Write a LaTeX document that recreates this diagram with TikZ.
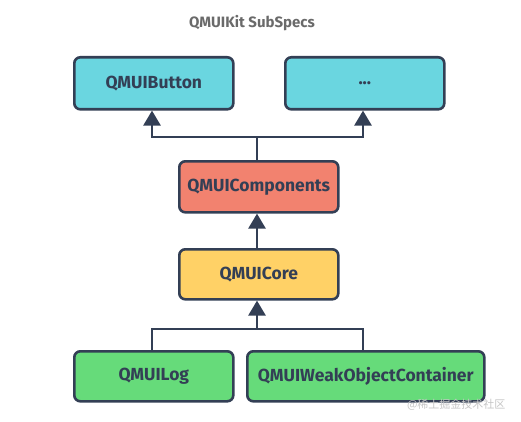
\documentclass[tikz,border=0pt]{standalone}
\usepackage{fontspec}
\setmainfont{Fira Sans}
\newfontfamily\cjkfont{Noto Sans CJK SC}
\usetikzlibrary{arrows.meta}
\definecolor{navy}{HTML}{333F55}
\definecolor{cyanbox}{HTML}{6AD6E0}
\definecolor{redbox}{HTML}{F2826F}
\definecolor{yellowbox}{HTML}{FFD166}
\definecolor{greenbox}{HTML}{66DB7A}
\definecolor{titlegray}{HTML}{6A6A6A}
\tikzset{
  box/.style={draw=navy, line width=2.6pt, rounded corners=6pt, anchor=north west, inner sep=0pt,
    font=\fontsize{17.5}{20}\selectfont\bfseries, text=navy},
  conn/.style={draw=navy, line width=2.6pt},
  arr/.style={conn, -{Triangle[length=15pt,width=17pt]}},
}
\begin{document}
\begin{tikzpicture}[x=1pt,y=-1pt]
\useasboundingbox (0,0) rectangle (521,422);
\fill[white] (0,0) rectangle (521,422);
\node[font=\fontsize{15}{17}\selectfont\bfseries, text=titlegray] (title) at (252,23) {QMUIKit SubSpecs};
\node[box, fill=cyanbox, minimum width=159pt, minimum height=52pt] (btn) at (73,56) {QMUIButton};
\node[box, fill=cyanbox, minimum width=159pt, minimum height=52pt] (etc) at (284,56) {...};
\node[box, fill=redbox, minimum width=159pt, minimum height=51pt] (comp) at (178,160) {QMUIComponents};
\node[box, fill=yellowbox, minimum width=159pt, minimum height=50pt] (core) at (178,248) {QMUICore};
\node[box, fill=greenbox, minimum width=159pt, minimum height=50pt] (log) at (73,350) {QMUILog};
\node[box, fill=greenbox, minimum width=237pt, minimum height=50pt] (weak) at (246,350) {QMUIWeakObjectContainer};
\coordinate (j1) at (257,137);
\coordinate (j2) at (257,329);
\coordinate (xl) at (152,0);
\coordinate (xr) at (363,0);
\draw[conn] (comp.north -| j1) -- (j1);
\draw[arr] (j1) -| (btn.south -| xl);
\draw[arr] (j1) -| (etc.south -| xr);
\draw[arr] (core.north -| j1) -- (comp.south -| j1);
\draw[conn] (log.north -| xl) |- (j2) -| (weak.north -| xr);
\draw[arr] (j2) -- (core.south -| j2);
\node[font=\cjkfont\fontsize{11}{13}\selectfont, text=gray!45, anchor=east] (wm) at (509,405) {@稀土掘金技术社区};
\end{tikzpicture}
\end{document}
